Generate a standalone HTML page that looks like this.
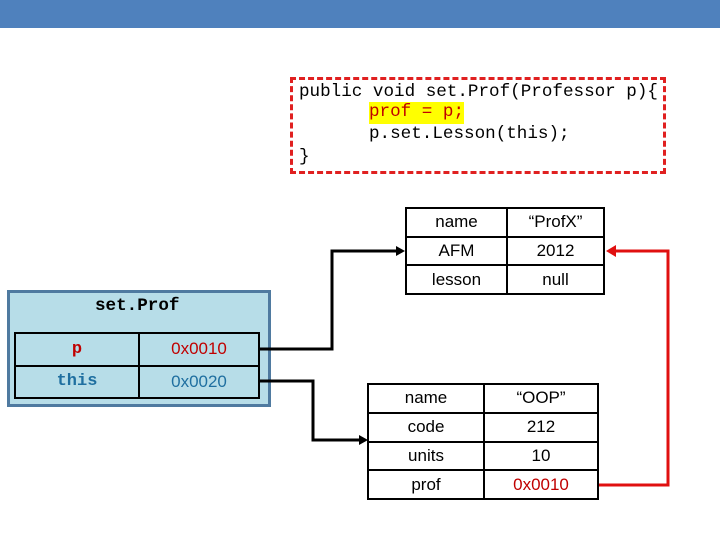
<!DOCTYPE html>
<html><head><meta charset="utf-8"><style>
body{margin:0;width:720px;height:540px;background:#fff;position:relative;overflow:hidden;font-family:"Liberation Sans",sans-serif}
.a{position:absolute}
.mono{font-family:"Liberation Mono",monospace}
table{position:absolute;border-collapse:collapse}
td{border:2px solid #000;text-align:center;font-size:17px;padding:0}
</style></head><body>
<div class="a" style="left:0;top:0;width:720px;height:28px;background:#4f81bd"></div>
<div class="a" style="left:290px;top:77px;width:370px;height:91px;border:3px dashed #e02020"></div>
<div class="a mono" style="left:299px;top:82px;font-size:17.6px;line-height:21.5px;white-space:pre;color:#000">public void set.Prof(Professor p){</div>
<div class="a mono" style="left:369px;top:102px;font-size:17.6px;line-height:21.5px;white-space:pre;background:#ffff00;color:#c00000">prof = p;</div>
<div class="a mono" style="left:369px;top:124px;font-size:17.6px;line-height:21.5px;white-space:pre;color:#000">p.set.Lesson(this);</div>
<div class="a mono" style="left:299px;top:147px;font-size:17.6px;line-height:21.5px;white-space:pre;color:#000">}</div>

<table style="left:405px;top:207px;width:200px;height:88px">
<tr><td style="width:99px">name</td><td>“ProfX”</td></tr>
<tr><td>AFM</td><td>2012</td></tr>
<tr><td>lesson</td><td>null</td></tr>
</table>

<div class="a" style="left:7px;top:290px;width:258px;height:111px;background:#b7dde8;border:3px solid #4f7aa0"></div>
<div class="a mono" style="left:95px;top:296px;font-size:17.6px;font-weight:bold">set.Prof</div>
<table style="left:14px;top:332px;width:246px;height:67px">
<tr><td style="width:122px;color:#c00000;font-weight:bold" class="mono">p</td><td style="color:#c00000">0x0010</td></tr>
<tr><td style="color:#1f6fa0;font-weight:bold" class="mono">this</td><td style="color:#1f6fa0">0x0020</td></tr>
</table>

<table style="left:367px;top:383px;width:232px;height:117px">
<tr><td style="width:114px">name</td><td>“OOP”</td></tr>
<tr><td>code</td><td>212</td></tr>
<tr><td>units</td><td>10</td></tr>
<tr><td>prof</td><td style="color:#c00000">0x0010</td></tr>
</table>

<svg class="a" style="left:0;top:0" width="720" height="540">
<polyline points="258,349 332,349 332,251 398,251" fill="none" stroke="#000" stroke-width="3"/>
<polygon points="405,251 396,246 396,256" fill="#000"/>
<polyline points="258,381 313,381 313,440 360,440" fill="none" stroke="#000" stroke-width="3"/>
<polygon points="368,440 359,435 359,445" fill="#000"/>
<polyline points="599,485 668,485 668,251 614,251" fill="none" stroke="#e01010" stroke-width="3"/>
<polygon points="606,251 616,245 616,257" fill="#e01010"/>
</svg>
</body></html>
